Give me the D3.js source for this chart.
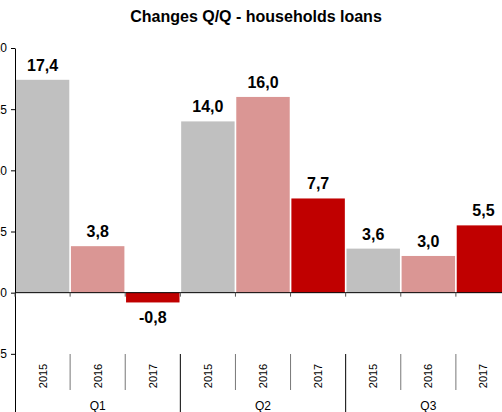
<!DOCTYPE html>
<html>
<head>
<meta charset="utf-8">
<script src="https://cdn.jsdelivr.net/npm/d3@7"></script>
<style>
  body { margin: 0; background: #fff; }
  svg { display: block; font-family: "Liberation Sans", Arial, sans-serif; }
</style>
</head>
<body>
<div id="chart"></div>
<script>
var title = "Changes Q/Q - households loans";
var quarters = ["Q1", "Q2", "Q3"];
var years = ["2015", "2016", "2017"];
var values = [17.4, 3.8, -0.8, 14.0, 16.0, 7.7, 3.6, 3.0, 5.5];
var yTicks = [-5, 0, 5, 10, 15, 20];
var colors = ["#c0c0c0", "#da9694", "#c00000"];

var width = 502, height = 412;

var svg = d3.select("#chart").append("svg")
    .attr("width", width).attr("height", height);

// one band per quarter/year pair
var cats = [];
quarters.forEach(function(q, qi) {
    years.forEach(function(yr, yi) {
        cats.push({ q: q, qi: qi, year: yr, yi: yi, value: values[qi * years.length + yi] });
    });
});

var x = d3.scaleBand()
    .domain(cats.map(function(d, i) { return i; }))
    .range([15, 511])
    .paddingInner(0.03).paddingOuter(0.015);

var step = x.step();
var x0 = 15;

var y = d3.scaleLinear().domain([-10, 20]).range([415, 48]);

// title
svg.append("text")
    .attr("x", 256).attr("y", 22)
    .attr("text-anchor", "middle")
    .style("font-weight", "bold").style("font-size", "16px")
    .text(title);

// bars
svg.selectAll(".bar").data(cats).enter().append("rect")
    .attr("class", "bar")
    .attr("x", function(d, i) { return x(i); })
    .attr("width", x.bandwidth())
    .attr("y", function(d) { return y(Math.max(0, d.value)); })
    .attr("height", function(d) { return Math.abs(y(d.value) - y(0)); })
    .style("fill", function(d) { return colors[d.yi]; });

// value labels
svg.selectAll(".val").data(cats).enter().append("text")
    .attr("class", "val")
    .attr("x", function(d, i) { return x0 + step * (i + 0.5); })
    .attr("y", function(d) { return d.value >= 0 ? y(d.value) - 9 : y(d.value) + 21; })
    .attr("text-anchor", "middle")
    .style("font-weight", "bold").style("font-size", "16px")
    .text(function(d) { return d.value.toFixed(1).replace(".", ","); });

// y axis
var yAxis = d3.axisLeft(y).tickValues(yTicks).tickSize(4).tickSizeOuter(0);
var ga = svg.append("g").attr("transform", "translate(15,0)").call(yAxis);
ga.select(".domain").attr("stroke", "#000");
ga.selectAll("text").style("font-size", "12px").attr("x", -8);

// x axis line at zero with small ticks on band edges
svg.append("line")
    .attr("x1", x0).attr("x2", width)
    .attr("y1", y(0)).attr("y2", y(0))
    .attr("stroke", "#000");
svg.selectAll(".xt").data(d3.range(cats.length + 1)).enter().append("line")
    .attr("class", "xt")
    .attr("x1", function(i) { return x0 + step * i; })
    .attr("x2", function(i) { return x0 + step * i; })
    .attr("y1", y(0)).attr("y2", y(0) + 4)
    .attr("stroke", "#555");

// category separators below the plot
svg.selectAll(".sep").data(d3.range(1, cats.length + 1)).enter().append("line")
    .attr("class", "sep")
    .attr("x1", function(i) { return x0 + step * i; })
    .attr("x2", function(i) { return x0 + step * i; })
    .attr("y1", 354)
    .attr("y2", function(i) { return i % years.length === 0 ? height : 390; })
    .attr("stroke", function(i) { return i % years.length === 0 ? "#000" : "#777"; });

// year labels, rotated
svg.selectAll(".yr").data(cats).enter().append("text")
    .attr("class", "yr")
    .attr("transform", function(d, i) {
        return "translate(" + (x0 + step * (i + 0.5) + 4) + ",376) rotate(-90)";
    })
    .attr("text-anchor", "middle")
    .style("font-size", "11px")
    .text(function(d) { return d.year; });

// quarter labels
svg.selectAll(".qt").data(quarters).enter().append("text")
    .attr("class", "qt")
    .attr("x", function(d, i) { return x0 + step * years.length * (i + 0.5); })
    .attr("y", 410)
    .attr("text-anchor", "middle")
    .style("font-size", "12px")
    .text(function(d) { return d; });
</script>
</body>
</html>
